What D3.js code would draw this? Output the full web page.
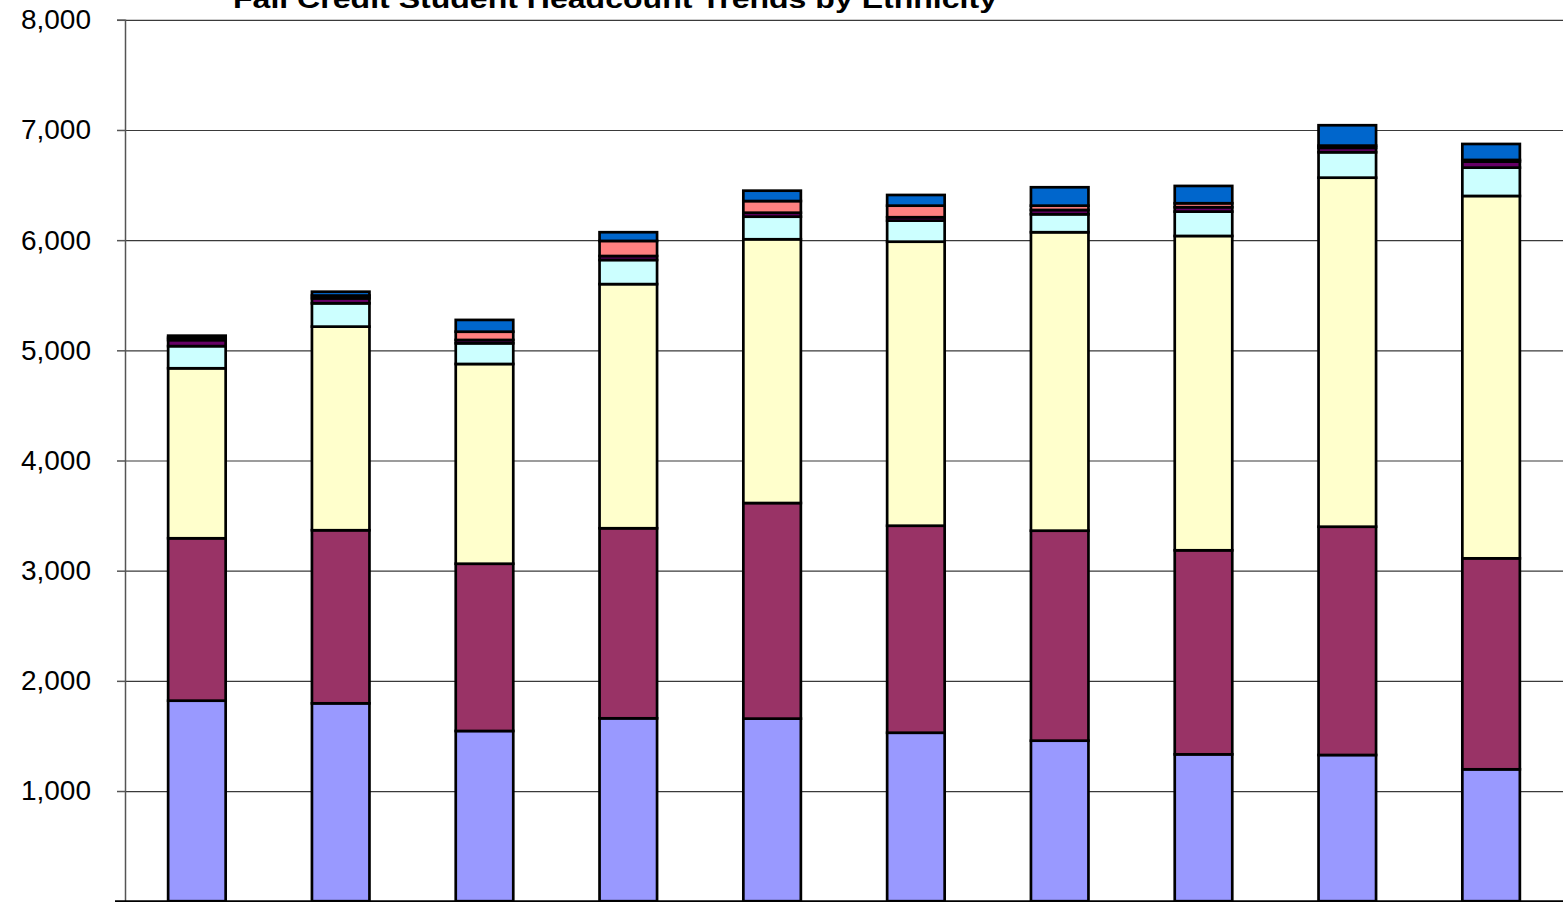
<!DOCTYPE html>
<html>
<head>
<meta charset="utf-8">
<script src="https://cdn.jsdelivr.net/npm/d3@7"></script>
<style>
  html, body { margin: 0; padding: 0; background: #fff; }
  svg { display: block; }
</style>
</head>
<body>
<svg id="chart" width="1567" height="902"></svg>
<script>
// ---- data ----
const categories = ["Fall 1997","Fall 1998","Fall 1999","Fall 2000","Fall 2001","Fall 2002","Fall 2003","Fall 2004","Fall 2005","Fall 2006"];
const seriesNames = ["White","African American","Hispanic","Asian/Pacific Islander","American Indian","Other","Unknown"];
const white      = [1820,1796,1545,1660,1657,1529,1457,1333,1327,1197];
const african    = [1474,1571,1518,1725,1957,1879,1906,1852,2072,1915];
const hispanic   = [1543,1848,1813,2216,2394,2578,2709,2853,3168,3289];
const asian      = [201,212,188,219,205,191,163,221,231,257];
const amIndian   = [55,45,30,36,36,31,39,40,40,55];
const other      = [22,25,75,137,106,105,39,36,20,15];
const unknown    = [18,35,107,79,94,97,167,157,185,145];
const seriesValues = [white, african, hispanic, asian, amIndian, other, unknown];
const seriesColors = ["#9999FF","#993366","#FFFFCC","#CCFFFF","#660066","#FF8080","#0066CC"];
const yTicks = [0,1000,2000,3000,4000,5000,6000,7000,8000];
const title = "Fall Credit Student Headcount Trends by Ethnicity";

// ---- layout ----
const svg = d3.select("#chart");
const plotLeft = 125, plotRight = 1563, plotTop = 19.8, plotBottom = 901.2;

const rows = categories.map((c, i) => {
  const r = { cat: c };
  seriesNames.forEach((s, k) => r[s] = seriesValues[k][i]);
  return r;
});
const stacked = d3.stack().keys(seriesNames)(rows);

const x = d3.scaleBand().domain(categories).range([plotLeft, plotRight]).paddingInner(0.6).paddingOuter(0.3);
const y = d3.scaleLinear().domain([0, 8000]).range([plotBottom, plotTop]);

// gridlines
svg.append("g")
  .attr("transform", `translate(${plotLeft},0)`)
  .call(d3.axisLeft(y).tickValues(yTicks.filter(v => v > 0)).tickSize(-(plotRight - plotLeft)).tickFormat(""))
  .call(g => g.select(".domain").remove())
  .call(g => g.selectAll("line").attr("stroke", "#3a3a3a").attr("stroke-width", 1.2));

// bars
const layer = svg.append("g").selectAll("g").data(stacked).join("g")
  .attr("fill", (d, i) => seriesColors[i]);
layer.selectAll("rect").data(d => d).join("rect")
  .attr("x", d => x(d.data.cat))
  .attr("width", x.bandwidth())
  .attr("y", d => y(d[1]))
  .attr("height", d => y(d[0]) - y(d[1]))
  .attr("stroke", "#000")
  .attr("stroke-width", 2.7);

// y axis
const fmt = v => v === 0 ? "-" : d3.format(",")(v);
svg.append("g")
  .attr("transform", `translate(${plotLeft},0)`)
  .call(d3.axisLeft(y).tickValues(yTicks).tickSize(8).tickPadding(26).tickFormat(fmt))
  .call(g => g.select(".domain").attr("stroke", "#555").attr("stroke-width", 1.5))
  .call(g => g.selectAll(".tick line").attr("stroke", "#555").attr("stroke-width", 1.5))
  .call(g => g.selectAll("text")
    .attr("font-family", "Liberation Sans, Arial, sans-serif")
    .attr("font-size", 28)
    .attr("fill", "#000"))
  .call(g => g.selectAll(".tick").filter(d => d === 0).select("text")
    .attr("x", -(plotLeft - 54)).attr("text-anchor", "middle"));

// x axis baseline
svg.append("line")
  .attr("x1", plotLeft - 10).attr("x2", plotRight)
  .attr("y1", y(0)).attr("y2", y(0))
  .attr("stroke", "#000").attr("stroke-width", 2);

// title (cropped at top)
svg.append("text")
  .attr("x", 615).attr("y", 8)
  .attr("text-anchor", "middle")
  .attr("font-family", "Liberation Sans, Arial, sans-serif")
  .attr("font-weight", "bold")
  .attr("font-size", 26)
  .attr("textLength", 764)
  .attr("lengthAdjust", "spacingAndGlyphs")
  .text(title);
</script>
</body>
</html>
